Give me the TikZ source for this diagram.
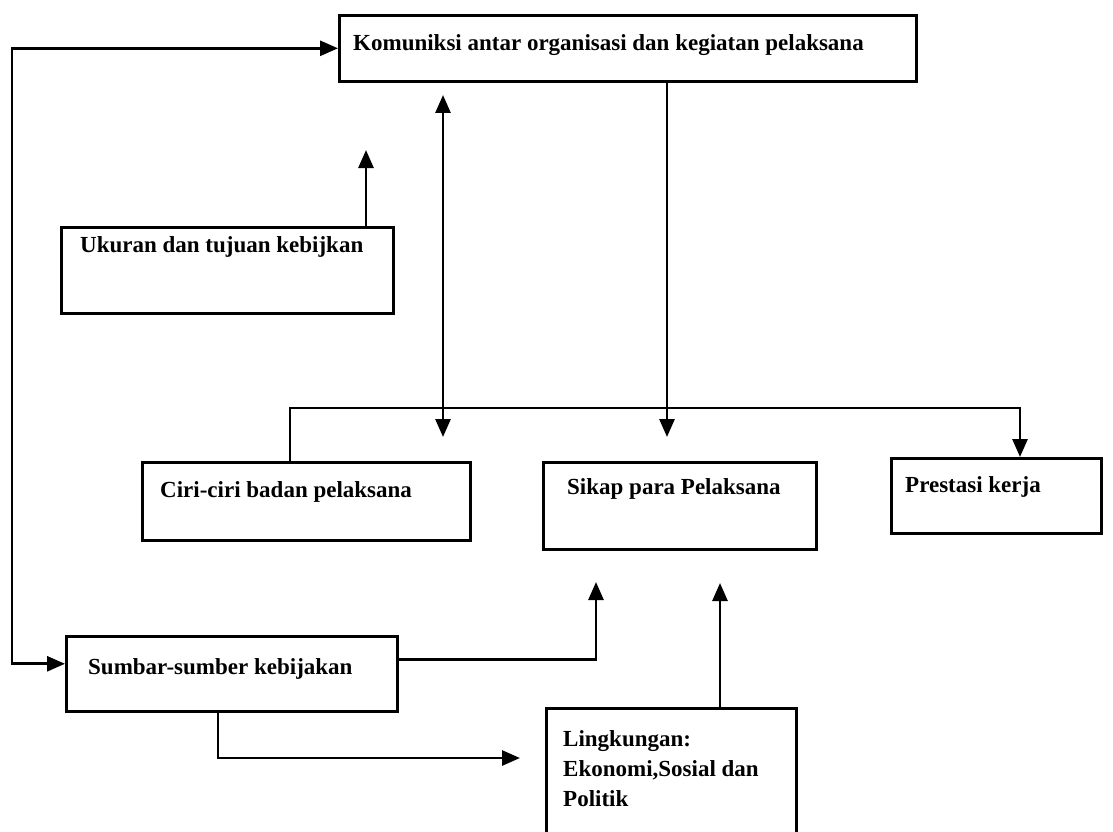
\documentclass[tikz,border=0pt]{standalone}
\usepackage{fontspec}
\setmainfont{Liberation Serif}
\usetikzlibrary{arrows.meta}
\tikzset{
  box/.style={draw, line width=2.6pt, anchor=north west, inner sep=0pt},
  lbl/.style={anchor=base west, inner sep=0pt, font=\fontsize{23}{27}\selectfont\bfseries},
  conn/.style={line width=2.8pt},
  arr/.style={conn, -{Triangle[length=18pt,width=15pt]}},
  dbl/.style={conn, {Triangle[length=18pt,width=15pt]}-{Triangle[length=18pt,width=15pt]}}
}
\begin{document}
\begin{tikzpicture}[x=1pt,y=-1pt]
\useasboundingbox (0,0) rectangle (1113,832);
% boxes
\node[box, minimum width=577pt, minimum height=66pt] (K) at (338,14) {};
\node[box, minimum width=332pt, minimum height=86pt] (U) at (60,226) {};
\node[box, minimum width=328pt, minimum height=78pt] (C) at (141,461) {};
\node[box, minimum width=273pt, minimum height=87pt] (S) at (542,461) {};
\node[box, minimum width=210pt, minimum height=75pt] (P) at (890,457) {};
\node[box, minimum width=331pt, minimum height=75pt] (B) at (65,635) {};
\node[box, minimum width=250pt, minimum height=125pt] (L) at (545,707) {};
% labels
\node[lbl] (tK) at (353,51) {Komuniksi antar organisasi dan kegiatan pelaksana};
\node[lbl] (tU) at (80,252) {Ukuran dan tujuan kebijkan};
\node[lbl] (tC) at (160,497) {Ciri-ciri badan pelaksana};
\node[lbl] (tS) at (567,494) {Sikap para Pelaksana};
\node[lbl] (tP) at (905,492) {Prestasi kerja};
\node[lbl] (tB) at (88,674) {Sumbar-sumber kebijakan};
\node[lbl] (tL1) at (563,746) {Lingkungan:};
\node[lbl] (tL2) at (563,776) {Ekonomi,Sosial dan};
\node[lbl] (tL3) at (563,806) {Politik};
% helper coordinates
\coordinate (lft) at (12,0);
\coordinate (uTip) at (366,150);
\coordinate (da1) at (443,95);
\coordinate (da2) at (443,437);
\coordinate (dn) at (667,437);
\coordinate (bl) at (290,408);
\coordinate (br) at (1020,408);
\coordinate (t1) at (596,582);
\coordinate (t2) at (720,583);
\coordinate (t3) at (520,758);
% connectors
\draw[dbl] ([yshift=10pt]B.west) -- ([yshift=10pt]B.west -| lft) |- (K.west);
\draw[arr] (U.north -| uTip) -- (uTip);
\draw[dbl] (da1) -- (da2);
\draw[arr] (K.south -| dn) -- (dn);
\draw[arr] (C.north -| bl) -- (bl) -- (br) -- (br |- P.north);
\draw[arr] ([yshift=14.5pt]B.east) -| (t1);
\draw[arr] (L.north -| t2) -- (t2);
\draw[arr] (B.south -| 218,0) |- (t3);
\end{tikzpicture}
\end{document}
